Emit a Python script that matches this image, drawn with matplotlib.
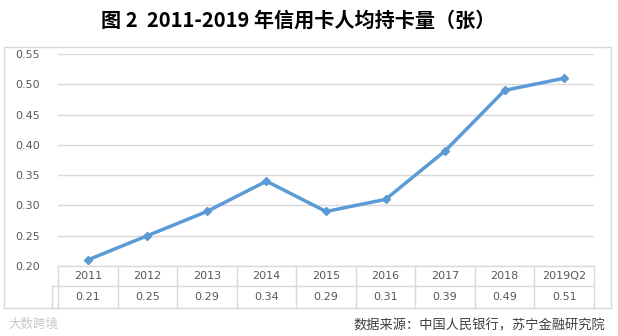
import matplotlib
matplotlib.use('Agg')
import matplotlib.pyplot as plt
from matplotlib.patches import Rectangle
from matplotlib.lines import Line2D

plt.rcParams['font.family'] = ['Noto Sans CJK SC', 'DejaVu Sans']

years = ['2011', '2012', '2013', '2014', '2015', '2016', '2017', '2018', '2019Q2']
cards = [0.21, 0.25, 0.29, 0.34, 0.29, 0.31, 0.39, 0.49, 0.51]
yticks = [0.20, 0.25, 0.30, 0.35, 0.40, 0.45, 0.50, 0.55]

W, H = 618, 336
fig = plt.figure(figsize=(W / 100, H / 100), dpi=100)

def fx(px):
    return px / W

def fy(py):
    return 1 - py / H

# outer frame
fig.patches.append(Rectangle((fx(4), fy(308)), fx(607), 261 / H, transform=fig.transFigure,
                             fill=False, edgecolor='#d9d9d9', linewidth=1))

fig.text(fx(298), fy(20), '图 2  2011-2019 年信用卡人均持卡量（张）', ha='center', va='center',
         fontsize=14.5, fontweight='bold', color='black')

left, right, top, bottom = 58, 594, 54, 266
ax = fig.add_axes([fx(left), fy(bottom), fx(right - left), (bottom - top) / H])
x = list(range(len(years)))
ax.plot(x, cards, color='#5b9bd5', linewidth=2.5, marker='D', markersize=4.5, zorder=3)
ax.set_xlim(-0.5, len(years) - 0.5)
ax.set_ylim(0.20, 0.55)
ax.set_yticks(yticks)
ax.set_yticklabels(['%.2f' % v for v in yticks], color='#595959', fontsize=8,
                   family='DejaVu Sans')
ax.set_xticks([])
ax.tick_params(axis='y', length=0, pad=13)
ax.grid(axis='y', color='#d9d9d9', linewidth=1)
ax.set_axisbelow(True)
for s in ax.spines.values():
    s.set_visible(False)

# data table below the axis
row1, row2, row3 = 266, 286, 307
col_w = (right - left) / len(years)
grid_c = '#d9d9d9'
lines = [
    ((left, right), (row1, row1)),
    ((52, right), (row2, row2)),
    ((52, 52), (row2, row3)),
]
for i in range(len(years) + 1):
    xp = left + i * col_w
    lines.append(((xp, xp), (row1, row3)))
for (xs, ys) in lines:
    fig.add_artist(Line2D([fx(xs[0]), fx(xs[1])], [fy(ys[0]), fy(ys[1])],
                          transform=fig.transFigure, color=grid_c, linewidth=1))
for i, (yr, v) in enumerate(zip(years, cards)):
    cx = left + (i + 0.5) * col_w
    fig.text(fx(cx), fy((row1 + row2) / 2), yr, ha='center', va='center',
             fontsize=8, color='#595959', family='DejaVu Sans')
    fig.text(fx(cx), fy((row2 + row3) / 2), '%.2f' % v, ha='center', va='center',
             fontsize=8, color='#595959', family='DejaVu Sans')

fig.text(fx(605), fy(326), '数据来源：中国人民银行，苏宁金融研究院', ha='right', va='center',
         fontsize=9.5, color='#404040', style='italic')
fig.text(fx(8), fy(324), '大数跨境', ha='left', va='center', fontsize=9, color='#c8c8c8')

fig.savefig('out.png', dpi=100)
